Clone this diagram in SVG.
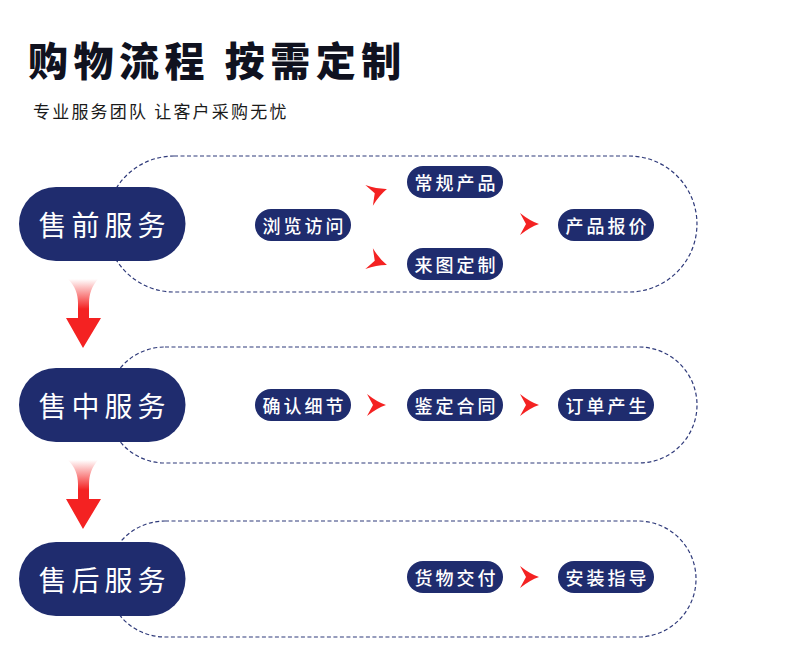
<svg xmlns="http://www.w3.org/2000/svg" width="790" height="657" viewBox="0 0 790 657">
  <style>
    .title { font-family: "Noto Sans CJK SC", "Noto Sans", sans-serif; font-size: 40px; font-weight: 900; fill: #10121f; letter-spacing: 5.5px; }
    .sub { font-family: "Noto Sans CJK SC", "Noto Sans", sans-serif; font-size: 17px; fill: #1a1a1a; letter-spacing: 2.2px; }
    .main { fill: #1f2c6e; }
    .mainText { font-family: "Noto Sans CJK SC", "Noto Sans", sans-serif; font-size: 28px; fill: #ffffff; letter-spacing: 5px; text-anchor: middle; dominant-baseline: central; }
    .pill { fill: #1f2c6e; }
    .pillText { font-family: "Noto Sans CJK SC", "Noto Sans", sans-serif; font-size: 18px; font-weight: 500; fill: #ffffff; letter-spacing: 3px; text-anchor: middle; dominant-baseline: central; }
    .box { fill: none; stroke: #2f3a7a; stroke-width: 1.2; stroke-dasharray: 4 2.5; }
    .chev { fill: #f42222; }
  </style>
  <defs>
    <path id="chev" d="M-10,-11 Q0,-3 9,0 Q0,3 -10,11 L-4,0 Z"/>
    <linearGradient id="shaft1" gradientUnits="userSpaceOnUse" x1="0" y1="279" x2="0" y2="309">
      <stop offset="0" stop-color="#ffffff"/>
      <stop offset="1" stop-color="#f42222"/>
    </linearGradient>
    <linearGradient id="shaft2" gradientUnits="userSpaceOnUse" x1="0" y1="460" x2="0" y2="490">
      <stop offset="0" stop-color="#ffffff"/>
      <stop offset="1" stop-color="#f42222"/>
    </linearGradient>
  </defs>

  <rect x="0" y="0" width="790" height="657" fill="#ffffff"/>

  <text class="title" x="28" y="59" dominant-baseline="central">购物流程 按需定制</text>
  <text class="sub" x="33" y="110" dominant-baseline="central">专业服务团队 让客户采购无忧</text>

  <g id="connectors">
    <path class="box" d="M174,156 H629 A68,68 0 0 1 629,292 H174 A68,68 0 0 1 174,156 Z"/>
    <path class="box" d="M165,347 H639 A58,58 0 0 1 639,463 H165 A58,58 0 0 1 165,347 Z"/>
    <path class="box" d="M165,521 H638 A58,58 0 0 1 638,637 H165 A58,58 0 0 1 165,521 Z"/>

    <path fill="url(#shaft1)" d="M68,279 L98,279 C92,286 89,294 89,303 L89,318 L101,318 L83,348 L66,318 L78,318 L78,303 C78,294 75,286 68,279 Z"/>
    <path fill="url(#shaft2)" d="M68,460 L98,460 C92,467 89,475 89,484 L89,499 L101,499 L83,529 L66,499 L78,499 L78,484 C78,475 75,467 68,460 Z"/>

    <use href="#chev" class="chev" transform="translate(378.5,192) rotate(-20)"/>
    <use href="#chev" class="chev" transform="translate(378.5,262) rotate(20)"/>
    <use href="#chev" class="chev" transform="translate(530,224)"/>
    <use href="#chev" class="chev" transform="translate(377,405)"/>
    <use href="#chev" class="chev" transform="translate(530,405)"/>
    <use href="#chev" class="chev" transform="translate(530,577)"/>
  </g>

  <g id="pre-sale">
    <rect class="main" x="19" y="187" width="166.5" height="74" rx="37"/>
    <text class="mainText" x="104.5" y="224">售前服务</text>
  </g>
  <g id="in-sale">
    <rect class="main" x="19" y="368" width="166.5" height="74" rx="37"/>
    <text class="mainText" x="104.5" y="405">售中服务</text>
  </g>
  <g id="after-sale">
    <rect class="main" x="19" y="542" width="166.5" height="74" rx="37"/>
    <text class="mainText" x="104.5" y="579">售后服务</text>
  </g>

  <g id="browse">
    <rect class="pill" x="255" y="209" width="96" height="32" rx="16"/>
    <text class="pillText" x="304.5" y="225">浏览访问</text>
  </g>
  <g id="standard">
    <rect class="pill" x="407" y="166" width="96" height="32" rx="16"/>
    <text class="pillText" x="456.5" y="182">常规产品</text>
  </g>
  <g id="custom">
    <rect class="pill" x="407" y="248" width="96" height="32" rx="16"/>
    <text class="pillText" x="456.5" y="264">来图定制</text>
  </g>
  <g id="quote">
    <rect class="pill" x="558" y="209" width="96" height="32" rx="16"/>
    <text class="pillText" x="607.5" y="225">产品报价</text>
  </g>
  <g id="confirm">
    <rect class="pill" x="255" y="389" width="96" height="32" rx="16"/>
    <text class="pillText" x="304.5" y="405">确认细节</text>
  </g>
  <g id="contract">
    <rect class="pill" x="407" y="389" width="96" height="32" rx="16"/>
    <text class="pillText" x="456.5" y="405">鉴定合同</text>
  </g>
  <g id="order">
    <rect class="pill" x="558" y="389" width="96" height="32" rx="16"/>
    <text class="pillText" x="607.5" y="405">订单产生</text>
  </g>
  <g id="delivery">
    <rect class="pill" x="407" y="561" width="96" height="32" rx="16"/>
    <text class="pillText" x="456.5" y="577">货物交付</text>
  </g>
  <g id="install">
    <rect class="pill" x="558" y="561" width="96" height="32" rx="16"/>
    <text class="pillText" x="607.5" y="577">安装指导</text>
  </g>
</svg>
